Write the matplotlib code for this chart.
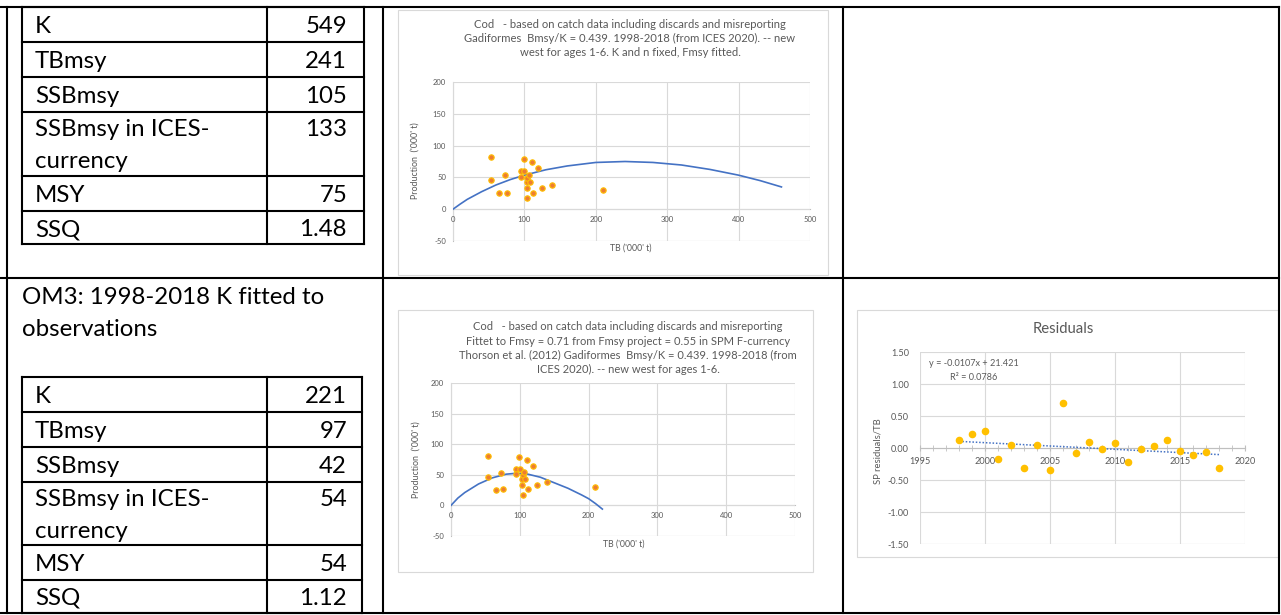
import matplotlib
matplotlib.use("Agg")
import matplotlib.pyplot as plt
from matplotlib.lines import Line2D
from matplotlib.patches import Rectangle
from matplotlib.ticker import MultipleLocator, FuncFormatter
import numpy as np

plt.rcParams['font.family'] = ['Lato', 'DejaVu Sans']
plt.rcParams['axes.unicode_minus'] = False

W, H = 1281, 615

# table contents
om2_labels = ["K", "TBmsy", "SSBmsy", "SSBmsy in ICES-\ncurrency", "MSY", "SSQ"]
om2_values = ["549", "241", "105", "133", "75", "1.48"]
om3_labels = ["K", "TBmsy", "SSBmsy", "SSBmsy in ICES-\ncurrency", "MSY", "SSQ"]
om3_values = ["221", "97", "42", "54", "54", "1.12"]
om3_heading = ["OM3: 1998-2018 K fitted to", "observations"]

# observed total biomass vs surplus production ('000 t)
tb_obs = [53.5, 53.7, 65, 72.5, 75, 94.7, 94.7, 99, 100, 103.5, 103.5,
          104, 104, 106.5, 108, 110.5, 112, 119, 125, 139, 209.5]
prod_obs = [81.5, 46, 25, 53.5, 26, 60, 51, 79, 60, 34, 43,
            49.5, 17, 54.5, 43, 75, 26, 64.5, 34, 37.5, 29.5]

# production curves
tb_curve1 = [0, 10, 20, 40, 60, 80, 100, 130, 160, 200, 241, 280, 320, 360, 400, 430, 460]
prod_curve1 = [0, 8, 15.5, 27.5, 38, 46.5, 53.5, 62, 68, 73.5, 75, 73.5, 69.5, 62.5, 53.5, 45, 35]
tb_curve2 = [0, 10, 20, 40, 60, 80, 95, 110, 130, 150, 170, 190, 200, 210, 220]
prod_curve2 = [0, 12, 21, 35, 45, 51, 52.5, 51.5, 46, 37, 28, 17, 11, 3, -6]

title1 = ["Cod   - based on catch data including discards and misreporting",
          "Gadiformes  Bmsy/K = 0.439. 1998-2018 (from ICES 2020). -- new",
          "west for ages 1-6. K and n fixed, Fmsy fitted."]
title2 = ["Cod   - based on catch data including discards and misreporting",
          "Fittet to Fmsy = 0.71 from Fmsy project = 0.55 in SPM F-currency",
          "Thorson et al. (2012) Gadiformes  Bmsy/K = 0.439. 1998-2018 (from",
          "ICES 2020). -- new west for ages 1-6."]

# residuals
years = list(range(1998, 2019))
residuals = [0.12, 0.22, 0.27, -0.17, 0.05, -0.32, 0.04, -0.35, 0.70, -0.08, 0.09,
             -0.02, 0.08, -0.22, -0.01, 0.03, 0.12, -0.04, -0.11, -0.07, -0.32]
trend_text = ["y = -0.0107x + 21.421", "R² = 0.0786"]

GREY = '#595959'
GRID = '#d9d9d9'
BLUE = '#4472C4'
TFS = 17.3  # table font size


def fx(x):
    return x / W


def fy(y):
    return 1 - y / H


def hline(y, x0, x1, lw=1.5, color='black'):
    fig.add_artist(Line2D([fx(x0), fx(x1)], [fy(y), fy(y)], transform=fig.transFigure,
                          color=color, lw=lw, solid_capstyle='projecting'))


def vline(x, y0, y1, lw=1.5, color='black'):
    fig.add_artist(Line2D([fx(x), fx(x)], [fy(y0), fy(y1)], transform=fig.transFigure,
                          color=color, lw=lw, solid_capstyle='projecting'))


def box(x0, y0, x1, y1):
    fig.add_artist(Rectangle((fx(x0), fy(y1)), fx(x1) - fx(x0), fy(y0) - fy(y1),
                             transform=fig.transFigure, fill=False, ec=GRID, lw=0.8))


def add_ax(x0, y0, x1, y1):
    return fig.add_axes([fx(x0), fy(y1), fx(x1) - fx(x0), fy(y0) - fy(y1)])


def draw_table(top, rows, right, labels, values):
    ys = [top]
    for r in rows:
        ys.append(ys[-1] + r)
    for y in ys:
        hline(y, 22, right)
    for x in (22, 267, right):
        vline(x, ys[0], ys[-1])
    for i, (lab, val) in enumerate(zip(labels, values)):
        t = ys[i]
        if "\n" in lab:
            for j, part in enumerate(lab.split("\n")):
                fig.text(fx(35), fy(t + 17 + 33 * j), part, fontsize=TFS, va='center', ha='left')
            fig.text(fx(347), fy(t + 17), val, fontsize=TFS, va='center', ha='right')
        else:
            yc = (ys[i] + ys[i + 1]) / 2 + 2
            fig.text(fx(35), fy(yc), lab, fontsize=TFS, va='center', ha='left')
            fig.text(fx(347), fy(yc), val, fontsize=TFS, va='center', ha='right')


def production_chart(ax, tb_c, prod_c):
    ax.set_xlim(0, 500)
    ax.set_ylim(-50, 200)
    ax.xaxis.set_major_locator(MultipleLocator(100))
    ax.yaxis.set_major_locator(MultipleLocator(50))
    ax.grid(True, color=GRID, lw=0.8)
    ax.set_axisbelow(True)
    for s in ('top', 'right'):
        ax.spines[s].set_visible(False)
    ax.spines['bottom'].set_position(('data', 0))
    ax.spines['left'].set_position(('data', 0))
    ax.spines['bottom'].set_color('#bfbfbf')
    ax.spines['left'].set_color('#bfbfbf')
    ax.spines['bottom'].set_zorder(0.5)
    ax.spines['left'].set_zorder(0.5)
    ax.axhline(-50, color=GRID, lw=0.8, zorder=0.4)
    ax.tick_params(length=0, labelsize=5.5, labelcolor=GREY, pad=5)
    ax.plot(tb_c, prod_c, color=BLUE, lw=1.2, zorder=3)
    ax.scatter(tb_obs, prod_obs, s=15, c='#ED7D31', edgecolors='#FFC000', linewidths=0.8, zorder=4)
    ax.set_facecolor('none')


fig = plt.figure(figsize=(W / 100, H / 100), dpi=100)

# outer table
for y in (7, 278, 613):
    hline(y, 0, 1279)
for x in (7, 383, 843, 1279):
    vline(x, 7, 613)

draw_table(7, [35, 35, 35, 64, 35, 33], 364, om2_labels, om2_values)
fig.text(fx(22), fy(297), om3_heading[0], fontsize=TFS, va='center', ha='left')
fig.text(fx(22), fy(329), om3_heading[1], fontsize=TFS, va='center', ha='left')
draw_table(377, [35, 35, 35, 63, 35, 33], 362, om3_labels, om3_values)

# chart 1: OM2 production
box(398, 10, 828, 275)
ax1 = add_ax(453, 82, 810, 241)
production_chart(ax1, tb_curve1, prod_curve1)
for i, line in enumerate(title1):
    fig.text(fx(630), fy(24 + 14.5 * i), line, fontsize=8.1, color=GREY, ha='center', va='center')
fig.text(fx(415), fy(161), "Production  ('000' t)", fontsize=6.4, color=GREY,
         rotation=90, ha='center', va='center')
fig.text(fx(631), fy(248), "TB ('000' t)", fontsize=6.3, color=GREY, ha='center', va='center')

# chart 2: OM3 production
box(398, 310, 813, 572)
ax2 = add_ax(451, 383, 795, 536)
production_chart(ax2, tb_curve2, prod_curve2)
for i, line in enumerate(title2):
    fig.text(fx(628), fy(327 + 14.3 * i), line, fontsize=8.0, color=GREY, ha='center', va='center')
fig.text(fx(416), fy(460), "Production  ('000' t)", fontsize=6.4, color=GREY,
         rotation=90, ha='center', va='center')
fig.text(fx(624), fy(544), "TB ('000' t)", fontsize=6.3, color=GREY, ha='center', va='center')

# chart 3: residuals
box(857, 310, 1278, 557)
ax3 = add_ax(920, 352, 1245, 544)
ax3.set_xlim(1995, 2020)
ax3.set_ylim(-1.5, 1.5)
ax3.xaxis.set_major_locator(MultipleLocator(5))
ax3.xaxis.set_minor_locator(MultipleLocator(1))
ax3.yaxis.set_major_locator(MultipleLocator(0.5))
ax3.yaxis.set_major_formatter(FuncFormatter(lambda v, p: f"{v:.2f}"))
ax3.grid(True, which='major', color=GRID, lw=0.8)
ax3.set_axisbelow(True)
for s in ('top', 'right', 'left'):
    ax3.spines[s].set_visible(False)
ax3.spines['bottom'].set_position(('data', 0))
ax3.spines['bottom'].set_color('#bfbfbf')
ax3.axhline(-1.5, color=GRID, lw=0.8, zorder=0.4)
ax3.tick_params(axis='x', which='both', direction='inout', length=5, color='#bfbfbf',
                labelsize=6.6, labelcolor=GREY, pad=4)
ax3.tick_params(axis='y', length=0, labelsize=6.6, labelcolor=GREY, pad=8)
ax3.scatter(years, residuals, s=20, c='#FFC000', zorder=4)
coef = np.polyfit(years, residuals, 1)
ax3.plot([years[0], years[-1]], np.polyval(coef, [years[0], years[-1]]),
         color=BLUE, lw=1.1, ls=(0, (1, 1.2)), zorder=3)
ax3.set_facecolor('none')
fig.text(fx(1063), fy(329), "Residuals", fontsize=10.7, color=GREY, ha='center', va='center')
fig.text(fx(878), fy(451), "SP residuals/TB", fontsize=6.8, color=GREY, rotation=90,
         ha='center', va='center')
fig.text(fx(974), fy(364), trend_text[0], fontsize=6.6, color=GREY, ha='center', va='center')
fig.text(fx(974), fy(377), trend_text[1], fontsize=6.6, color=GREY, ha='center', va='center')

fig.savefig("out.png", dpi=100)
